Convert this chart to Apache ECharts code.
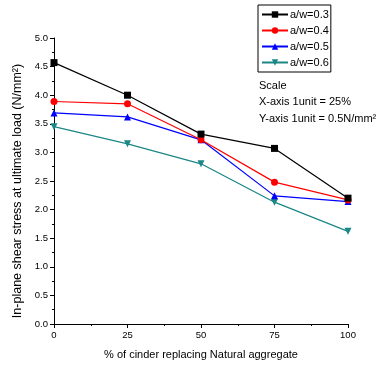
<!DOCTYPE html>
<html>
<head>
<meta charset="utf-8">
<script src="https://cdn.jsdelivr.net/npm/echarts@6/dist/echarts.min.js"></script>
<style>
  html, body { margin: 0; padding: 0; background: #fff; }
  #chart { width: 378px; height: 368px; }
</style>
</head>
<body>
<div id="chart"></div>
<script>
// replacement levels (%)
const xValues = [0, 25, 50, 75, 100]
const seriesNames = ['a/w=0.3', 'a/w=0.4', 'a/w=0.5', 'a/w=0.6']
const aw03 = [4.57, 4.0, 3.32, 3.07, 2.2]
const aw04 = [3.89, 3.85, 3.22, 2.48, 2.17]
const aw05 = [3.69, 3.62, 3.22, 2.24, 2.14]
const aw06 = [3.45, 3.15, 2.8, 2.13, 1.62]
const scaleLines = ['Scale', 'X-axis 1unit = 25%', 'Y-axis 1unit = 0.5N/mm²']

const colors = ['#000000', '#ff0000', '#0000ff', '#1a8686']
const symbols = ['rect', 'circle', 'triangle', 'path://M0,0 L10,0 L5,10 Z']
const font = 'Liberation Sans, Arial, sans-serif'

const chart = echarts.init(document.getElementById('chart'))

const makeSeries = (name, values, i) => ({
  name: name,
  type: 'line',
  data: xValues.map((x, k) => [x, values[k]]),
  symbol: symbols[i],
  symbolSize: 7,
  color: colors[i],
  lineStyle: { width: 1.2, color: colors[i] },
  itemStyle: { color: colors[i] },
  z: 10 - i
})

chart.setOption({
  animation: false,
  grid: { left: 54, right: 30, top: 38, bottom: 44 },
  legend: {
    data: seriesNames,
    orient: 'vertical',
    left: 258,
    top: 5,
    padding: [4, 2, 4, 3],
    itemGap: 5,
    itemWidth: 26,
    itemHeight: 8,
    borderColor: '#000',
    borderWidth: 1,
    textStyle: { fontFamily: font, fontSize: 11, color: '#000', padding: [0, 0, 0, -3] }
  },
  xAxis: {
    type: 'value',
    min: 0,
    max: 100,
    interval: 25,
    name: '% of cinder replacing Natural aggregate',
    nameLocation: 'middle',
    nameGap: 25,
    nameTextStyle: { fontFamily: font, fontSize: 11, color: '#000' },
    axisLine: { lineStyle: { color: '#000', width: 1 } },
    axisTick: { length: 4, lineStyle: { color: '#000' } },
    minorTick: { show: true, splitNumber: 2, length: 2, lineStyle: { color: '#000' } },
    axisLabel: { fontFamily: font, fontSize: 9.5, color: '#000', margin: 6 },
    splitLine: { show: false }
  },
  yAxis: {
    type: 'value',
    min: 0,
    max: 5,
    interval: 0.5,
    name: 'In-plane shear stress at ultimate load (N/mm²)',
    nameLocation: 'middle',
    nameGap: 24,
    nameTextStyle: { fontFamily: font, fontSize: 12.5, color: '#000', padding: [0, 20, 0, 0] },
    axisLine: { show: true, lineStyle: { color: '#000', width: 1 } },
    axisTick: { show: true, length: 4, lineStyle: { color: '#000' } },
    minorTick: { show: true, splitNumber: 2, length: 2, lineStyle: { color: '#000' } },
    axisLabel: {
      fontFamily: font, fontSize: 9.5, color: '#000', margin: 6,
      formatter: v => v.toFixed(1)
    },
    splitLine: { show: false }
  },
  graphic: scaleLines.map((t, i) => ({
    type: 'text',
    left: 259,
    top: 80 + i * 16.5,
    style: { text: t, fontFamily: font, fontSize: 11, fill: '#000' }
  })),
  series: [
    makeSeries(seriesNames[0], aw03, 0),
    makeSeries(seriesNames[1], aw04, 1),
    makeSeries(seriesNames[2], aw05, 2),
    makeSeries(seriesNames[3], aw06, 3)
  ]
})
</script>
</body>
</html>
